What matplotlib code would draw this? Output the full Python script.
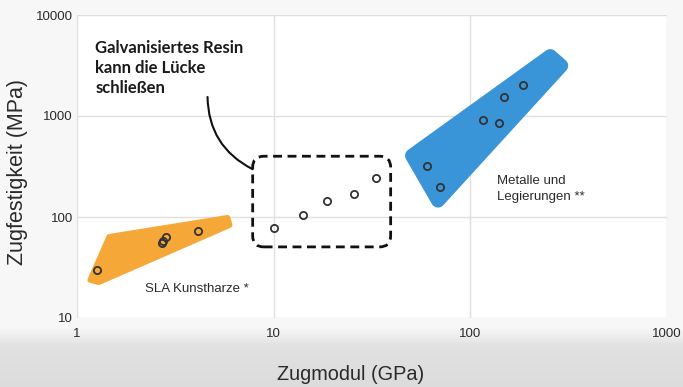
import numpy as np
import matplotlib
matplotlib.use("Agg")
import matplotlib.pyplot as plt
from matplotlib.patches import Polygon, FancyBboxPatch
from matplotlib.ticker import NullLocator
from matplotlib.transforms import IdentityTransform

# tensile modulus (GPa) vs. tensile strength (MPa)
sla_modulus = [1.27, 2.71, 2.75, 2.85, 4.1]
sla_strength = [30, 55, 58, 64, 73]

galv_modulus = [10, 14.1, 18.6, 25.7, 33]
galv_strength = [78, 105, 144, 169, 242]

metal_modulus = [60, 70, 116, 140, 148, 185]
metal_strength = [320, 199, 913, 847, 1530, 2030]

# outlines of the shaded material families
sla_region_x = [1.17, 1.46, 5.82, 5.96, 1.29]
sla_region_y = [23.8, 63.4, 97.8, 83.3, 22.7]
metal_region_x = [50.5, 68.5, 290, 255]
metal_region_y = [405, 145, 3150, 3926]

x_ticks = [1, 10, 100, 1000]
y_ticks = [10, 100, 1000, 10000]

ORANGE = "#f5a837"
BLUE = "#3a94d8"
INK = "#2a2a2a"
FONT = "Liberation Sans"

W, H, DPI = 683, 387, 100
fig = plt.figure(figsize=(W / DPI, H / DPI), dpi=DPI)

# light page with a grey band along the bottom
rows = np.arange(H)
shade = np.full(H, 0.965)
band = np.clip((rows - 328) / 18.0, 0, 1)
shade = shade - band * 0.085 - np.clip((rows - 346) / 40.0, 0, 1) * 0.02
bg = fig.add_axes([0, 0, 1, 1], zorder=-10)
bg.imshow(np.repeat(shade[:, None], 4, axis=1), cmap="gray", vmin=0, vmax=1,
          aspect="auto", extent=[0, 1, 0, 1])
bg.axis("off")

ax = fig.add_axes([77 / W, (H - 318) / H, 590 / W, 303 / H])
ax.set_facecolor("white")
ax.set_xscale("log")
ax.set_yscale("log")
ax.set_xlim(x_ticks[0], x_ticks[-1])
ax.set_ylim(y_ticks[0], y_ticks[-1])
ax.set_xticks(x_ticks)
ax.set_xticklabels([str(t) for t in x_ticks])
ax.set_yticks(y_ticks)
ax.set_yticklabels([str(t) for t in y_ticks])
ax.xaxis.set_minor_locator(NullLocator())
ax.yaxis.set_minor_locator(NullLocator())
ax.tick_params(axis="both", length=0, labelsize=9.5, labelcolor=INK)
ax.tick_params(axis="x", pad=7)
ax.tick_params(axis="y", pad=3)
for lab in ax.get_xticklabels() + ax.get_yticklabels():
    lab.set_fontfamily(FONT)
ax.grid(True, color="#e2dede", lw=1.0)
ax.set_axisbelow(True)
for s in ax.spines.values():
    s.set_visible(False)

# shaded material families (thick round-joined edge gives the soft corners)
ax.add_patch(Polygon(np.column_stack([sla_region_x, sla_region_y]), closed=True,
                     fc=ORANGE, ec=ORANGE, lw=4.3, joinstyle="round", zorder=2))
ax.add_patch(Polygon(np.column_stack([metal_region_x, metal_region_y]), closed=True,
                     fc=BLUE, ec=BLUE, lw=10, joinstyle="round", zorder=2))

marker = dict(ls="none", marker="o", mfc="none", mec="#333333", ms=5.2, mew=1.3, zorder=3)
ax.plot(sla_modulus, sla_strength, **marker)
ax.plot(galv_modulus, galv_strength, **marker)
ax.plot(metal_modulus, metal_strength, **marker)

ax.text(2.23, 19.4, "SLA Kunstharze *", fontsize=9.5, family=FONT, color=INK,
        ha="left", va="center")
ax.text(137, 189, "Metalle und\nLegierungen **", fontsize=9.5, family=FONT,
        color=INK, ha="left", va="center", linespacing=1.4)

# dashed rounded frame around the galvanised resin points
pts = ax.transData.transform(np.column_stack([galv_modulus, galv_strength]))
x0, y0 = pts[:, 0].min() - 21, pts[:, 1].min() - 19
x1, y1 = pts[:, 0].max() + 15, pts[:, 1].max() + 22
frame = FancyBboxPatch((x0, y0), x1 - x0, y1 - y0,
                       boxstyle="round,pad=0,rounding_size=11",
                       transform=IdentityTransform(), fc="none", ec="#111111",
                       lw=2.0, ls=(0, (3.2, 2.0)), zorder=4)
ax.add_artist(frame)

ax.text(1.24, 5600, "Galvanisiertes Resin\nkann die Lücke\nschließen",
        fontsize=12, family="Lato", fontweight="bold", color="#1a1a1a",
        ha="left", va="top", linespacing=1.3)

end = ax.transData.inverted().transform((x0, y1 - 13))
ax.annotate("", xy=end, xytext=(4.61, 1542),
            arrowprops=dict(arrowstyle="-", color="#111111", lw=1.5,
                            connectionstyle="arc3,rad=0.3",
                            shrinkA=0, shrinkB=0))

ax.set_xlabel("Zugmodul (GPa)", fontsize=14.3, family=FONT, color=INK)
ax.xaxis.set_label_coords(0.464, -0.155)
ax.set_ylabel("Zugfestigkeit (MPa)", fontsize=15.5, family=FONT, color=INK)
ax.yaxis.set_label_coords(-0.083, 0.482)

fig.savefig("out.png", dpi=DPI)
